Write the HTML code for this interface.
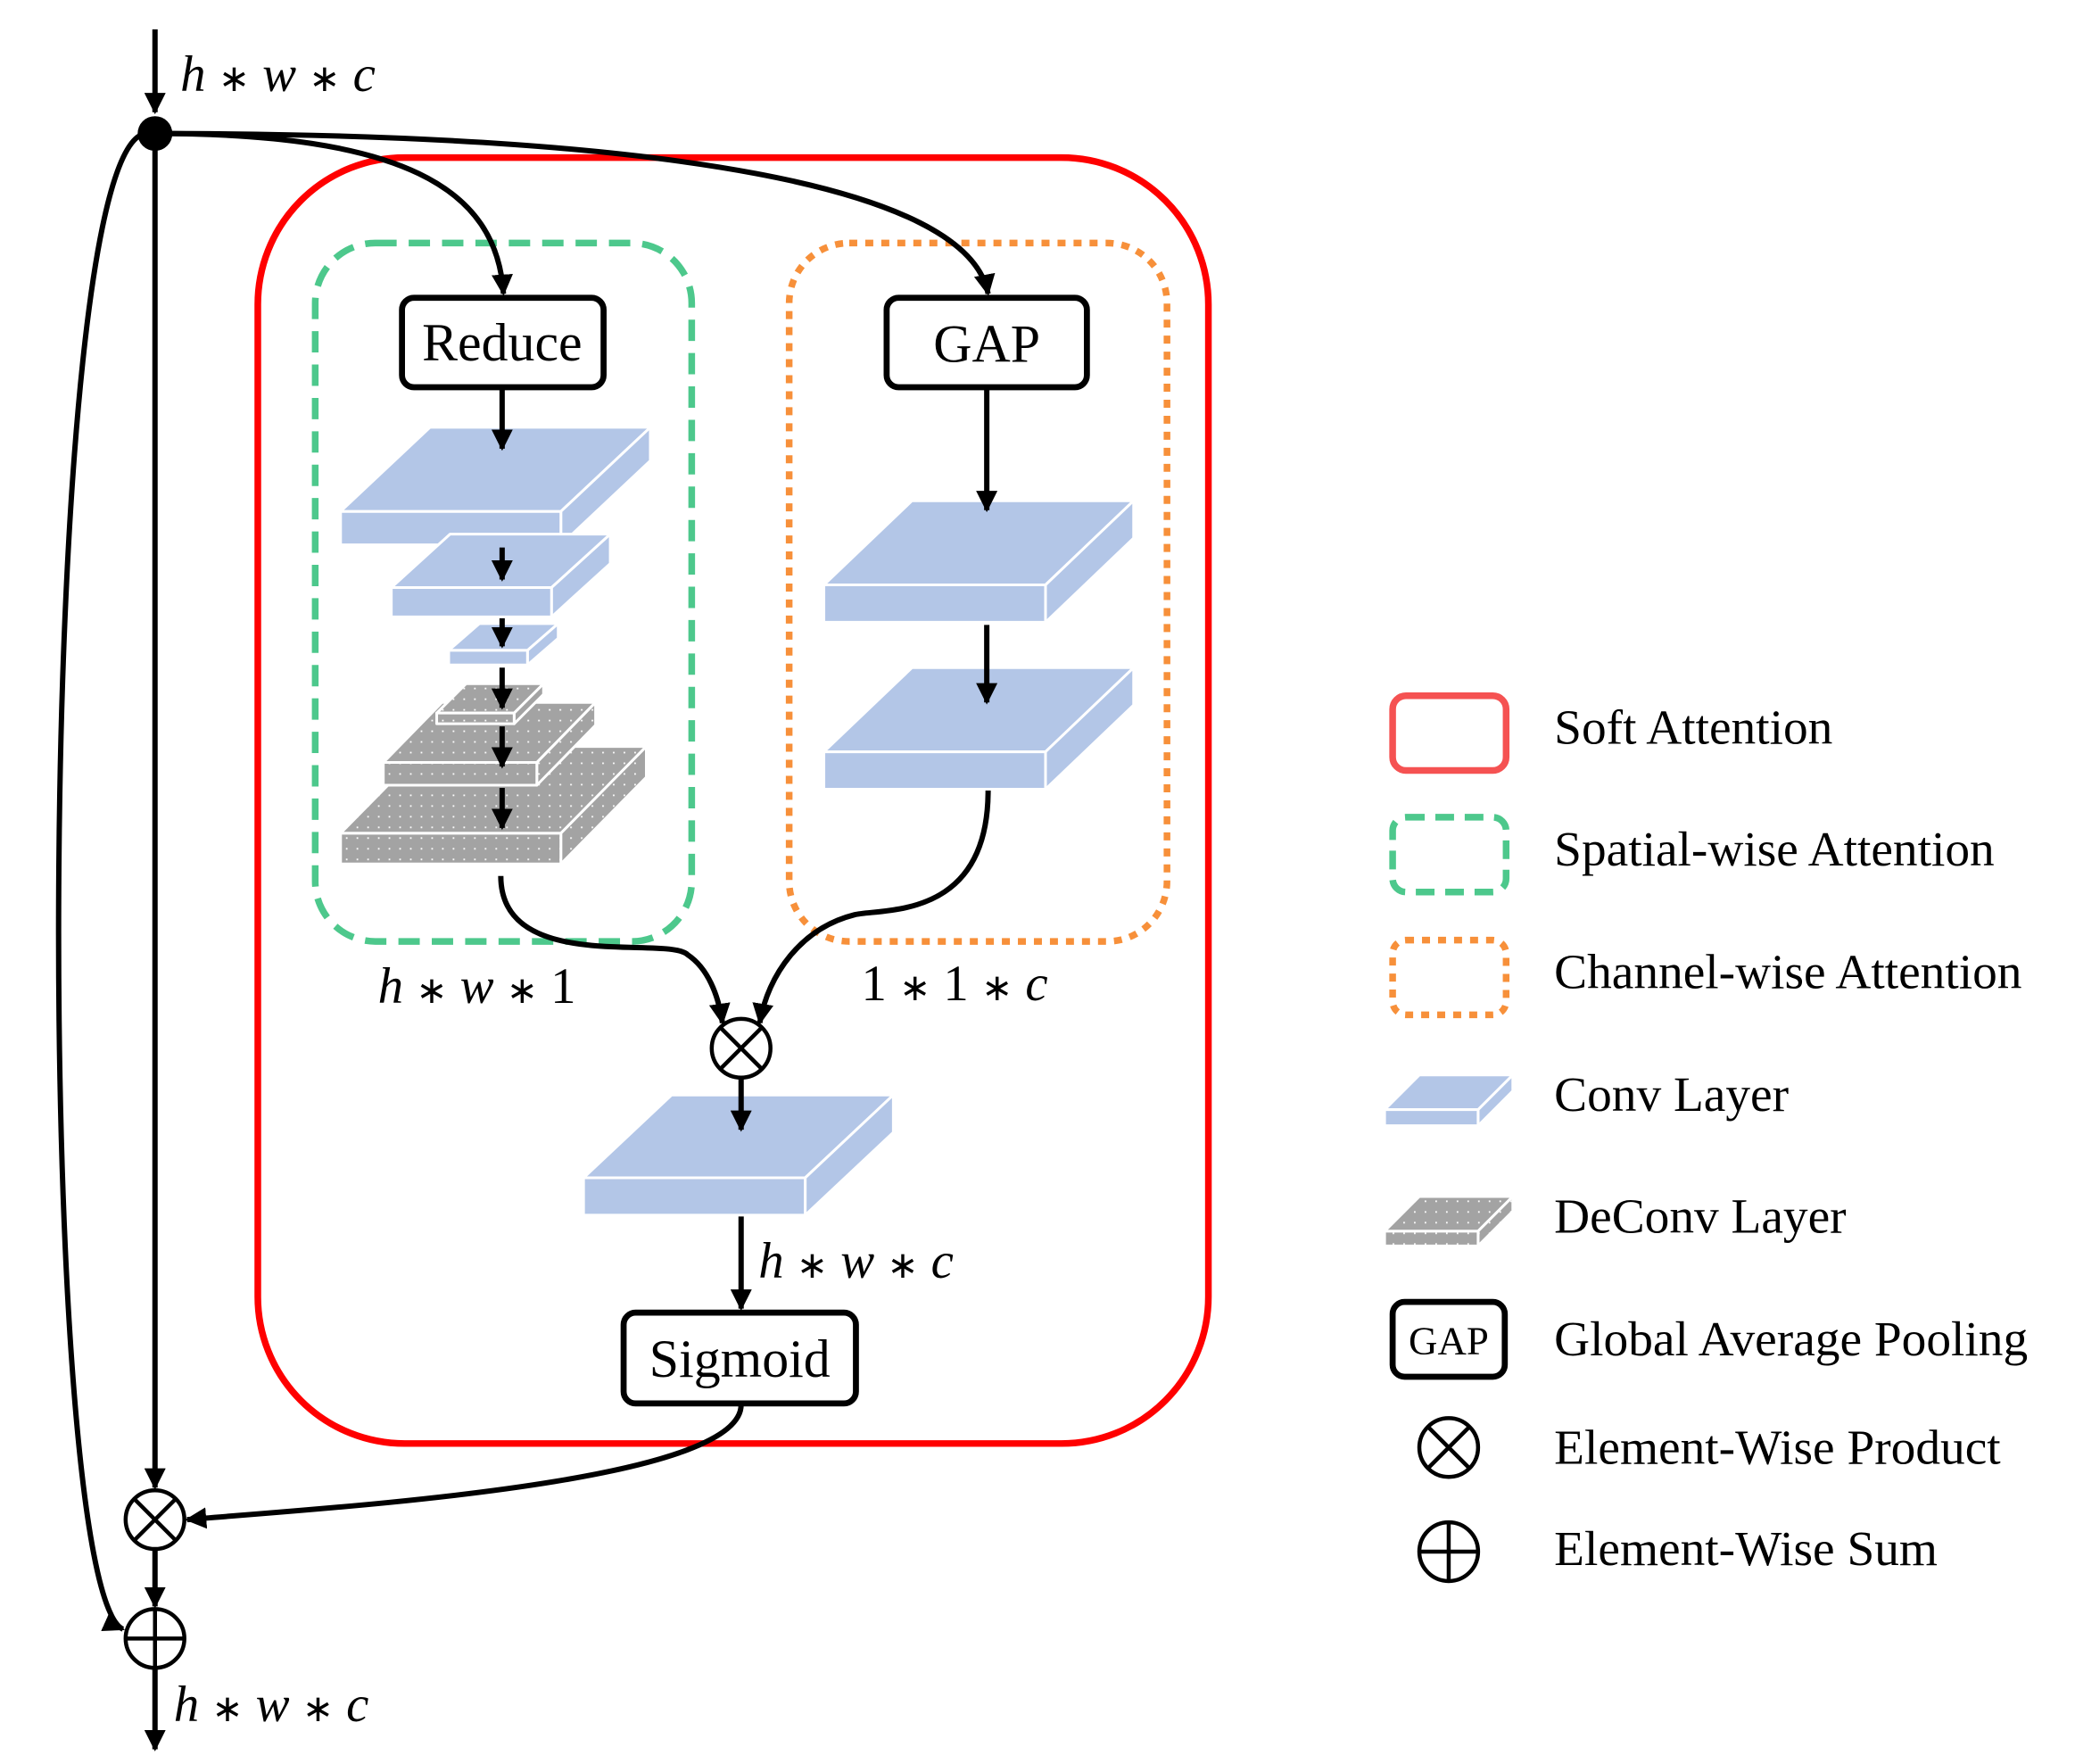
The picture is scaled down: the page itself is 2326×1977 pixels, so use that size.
<!DOCTYPE html>
<html><head><meta charset="utf-8"><style>html,body{margin:0;padding:0;background:#fff}svg{display:block}.s{font-size:28px;font-style:normal}</style></head>
<body>
<svg width="2326" height="1977" viewBox="0 0 1554 1321" xmlns="http://www.w3.org/2000/svg" font-family="Liberation Serif, serif">
<defs>
<marker id="ar" viewBox="0 0 10 10" refX="9" refY="5" markerWidth="4" markerHeight="4" orient="auto"><path d="M0,0 L10,5 L0,10 z" fill="#000"/></marker>
<pattern id="dots" width="8" height="8" patternUnits="userSpaceOnUse"><rect width="8" height="8" fill="#a3a3a3"/><rect x="3" y="3" width="1.2" height="1.2" fill="#fff"/></pattern>
</defs>
<rect width="1554" height="1321" fill="#fff"/>
<rect x="193" y="118" width="712" height="963" rx="110" fill="none" stroke="#ff0000" stroke-width="5"/>
<rect x="236" y="182" width="282" height="523" rx="45" fill="none" stroke="#4dc88c" stroke-width="5" stroke-dasharray="16,9"/>
<rect x="591" y="182" width="283" height="523" rx="45" fill="none" stroke="#f7903a" stroke-width="5" stroke-dasharray="6,6"/>

<g stroke="#fff" stroke-width="2" stroke-linejoin="round">
<g fill="#b3c6e7">
<path d="M255,383 L420,383 L487,320 L322,320 Z"/><path d="M420,383 L487,320 L487,345 L420,408 Z"/><rect x="255" y="383" width="165" height="25"/>
<path d="M293,440 L413,440 L457,400 L337,400 Z"/><path d="M413,440 L457,400 L457,422 L413,462 Z"/><rect x="293" y="440" width="120" height="22"/>
<path d="M336,487 L395,487 L418,467 L359,467 Z"/><path d="M395,487 L418,467 L418,478 L395,498 Z"/><rect x="336" y="487" width="59" height="11"/>
<path d="M617,438 L783,438 L849,375 L683,375 Z"/><path d="M783,438 L849,375 L849,403 L783,466 Z"/><rect x="617" y="438" width="166" height="28"/>
<path d="M617,563 L783,563 L849,500 L683,500 Z"/><path d="M783,563 L849,500 L849,528 L783,591 Z"/><rect x="617" y="563" width="166" height="28"/>
<path d="M437,882 L603,882 L669,820 L503,820 Z"/><path d="M603,882 L669,820 L669,848 L603,910 Z"/><rect x="437" y="882" width="166" height="28"/>
<path d="M1037,831 L1107,831 L1133,805 L1063,805 Z"/><path d="M1107,831 L1133,805 L1133,817 L1107,843 Z"/><rect x="1037" y="831" width="70" height="12"/>
</g>
<g fill="url(#dots)">
<path d="M255,624 L420,624 L484,559 L319,559 Z"/><path d="M420,624 L484,559 L484,582 L420,647 Z"/><rect x="255" y="624" width="165" height="23"/>
<path d="M287,571 L402,571 L446,526 L331,526 Z"/><path d="M402,571 L446,526 L446,543 L402,588 Z"/><rect x="287" y="571" width="115" height="17"/>
<path d="M327,534 L385,534 L407,512 L349,512 Z"/><path d="M385,534 L407,512 L407,520 L385,542 Z"/><rect x="327" y="534" width="58" height="8"/>
<path d="M1037,922 L1107,922 L1133,896 L1063,896 Z"/><path d="M1107,922 L1133,896 L1133,907 L1107,933 Z"/><rect x="1037" y="922" width="70" height="11"/>
</g>
</g>

<g fill="#fff" stroke="#000" stroke-width="4.5">
<rect x="301" y="223" width="151" height="67" rx="9"/>
<rect x="664" y="223" width="150" height="67" rx="9"/>
<rect x="467" y="983" width="174" height="68" rx="9"/>
<rect x="1043" y="975" width="84" height="56" rx="9"/>
</g>
<g font-size="40" text-anchor="middle" fill="#000">
<text x="376" y="270">Reduce</text>
<text x="739" y="271">GAP</text>
<text x="554" y="1031">Sigmoid</text>
<text x="1085" y="1014" font-size="30">GAP</text>
</g>

<g fill="none" stroke="#000" stroke-width="4">
<path d="M116,22 L116,84" marker-end="url(#ar)"/>
<path d="M116,100 L116,1114" marker-end="url(#ar)"/>
<path d="M116,1160 L116,1203" marker-end="url(#ar)"/>
<path d="M116,1249 L116,1310" marker-end="url(#ar)"/>
<path d="M110,100 C 25,100 25,1190 92,1220" marker-end="url(#ar)"/>
<path d="M116,100 C 300,100 372,140 377,220" marker-end="url(#ar)"/>
<path d="M116,100 C 500,100 725,140 740,220" marker-end="url(#ar)"/>
<path d="M376,292 L376,336" marker-end="url(#ar)"/>
<path d="M376,410 L376,434" marker-end="url(#ar)"/>
<path d="M376,463 L376,484" marker-end="url(#ar)"/>
<path d="M376,500 L376,530" marker-end="url(#ar)"/>
<path d="M376,544 L376,574" marker-end="url(#ar)"/>
<path d="M376,590 L376,620" marker-end="url(#ar)"/>
<path d="M739,292 L739,382" marker-end="url(#ar)"/>
<path d="M739,468 L739,526" marker-end="url(#ar)"/>
<path d="M375,656 C 375,730 500,700 515,715 C 530,725 538,745 541,766" marker-end="url(#ar)"/>
<path d="M740,592 C 740,690 660,680 640,685 C 600,695 575,730 569,766" marker-end="url(#ar)"/>
<path d="M555,807 L555,846" marker-end="url(#ar)"/>
<path d="M555,911 L555,980" marker-end="url(#ar)"/>
<path d="M555,1052 C 555,1110 260,1128 140,1138" marker-end="url(#ar)"/>
</g>
<circle cx="116" cy="100" r="13" fill="#000"/>
<g fill="#fff" stroke="#000" stroke-width="3">
<circle cx="555" cy="785" r="22"/><path d="M539.5,769.5 L570.5,800.5 M570.5,769.5 L539.5,800.5"/>
<circle cx="116" cy="1138" r="22"/><path d="M100.5,1122.5 L131.5,1153.5 M131.5,1122.5 L100.5,1153.5"/>
<circle cx="116" cy="1227" r="22"/><path d="M116,1205 L116,1249 M94,1227 L138,1227"/>
<circle cx="1085" cy="1084" r="22"/><path d="M1069.5,1068.5 L1100.5,1099.5 M1100.5,1068.5 L1069.5,1099.5"/>
<circle cx="1085" cy="1162" r="22"/><path d="M1085,1140 L1085,1184 M1063,1162 L1107,1162"/>
</g>
<rect x="1043" y="521" width="85" height="56" rx="10" fill="none" stroke="#f55252" stroke-width="5"/>
<rect x="1043" y="612" width="85" height="56" rx="10" fill="none" stroke="#4dc88c" stroke-width="5" stroke-dasharray="14,8"/>
<rect x="1043" y="704" width="85" height="56" rx="10" fill="none" stroke="#f7903a" stroke-width="5" stroke-dasharray="6,6"/>

<g font-size="38" fill="#000" font-style="italic">
<text x="135" y="68">h <tspan class="s">∗</tspan> w <tspan class="s">∗</tspan> c</text>
<text x="283" y="751">h <tspan class="s">∗</tspan> w <tspan class="s">∗</tspan> <tspan font-style="normal">1</tspan></text>
<text x="645" y="749"><tspan font-style="normal">1</tspan> <tspan class="s">∗</tspan> <tspan font-style="normal">1</tspan> <tspan class="s">∗</tspan> c</text>
<text x="568" y="957">h <tspan class="s">∗</tspan> w <tspan class="s">∗</tspan> c</text>
<text x="130" y="1289">h <tspan class="s">∗</tspan> w <tspan class="s">∗</tspan> c</text>
</g>
<g font-size="37" fill="#000">
<text x="1164" y="557">Soft Attention</text>
<text x="1164" y="648">Spatial-wise Attention</text>
<text x="1164" y="740">Channel-wise Attention</text>
<text x="1164" y="832">Conv Layer</text>
<text x="1164" y="923">DeConv Layer</text>
<text x="1164" y="1015">Global Average Pooling</text>
<text x="1164" y="1096">Element-Wise Product</text>
<text x="1164" y="1172">Element-Wise Sum</text>
</g>
</svg>
</body></html>
